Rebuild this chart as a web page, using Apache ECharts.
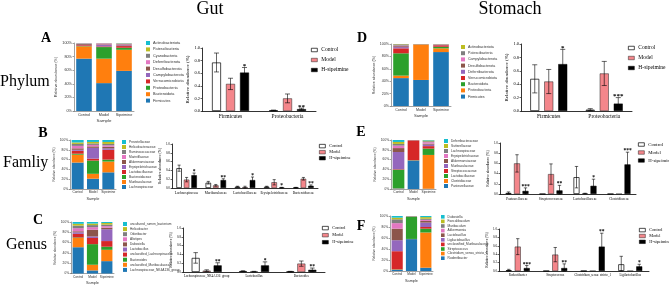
<!DOCTYPE html>
<html>
<head>
<meta charset="utf-8">
<script src="https://cdn.jsdelivr.net/npm/echarts@6/dist/echarts.min.js"></script>
<style>
  html, body { margin: 0; padding: 0; background: #fff; }
  #chart { width: 669px; height: 286px; }
</style>
</head>
<body>
<div id="chart"></div>
<script>
// ---- data ----
const samples = ['Control', 'Model', 'Sipeimine']
const groupNames = ['Control', 'Model', 'H-sipeimine']
// stacking colours, bottom -> top
const taxonColors = ['#1f77b4', '#ff7f0e', '#2ca02c', '#d62728', '#9467bd',
  '#8c564b', '#e377c2', '#7f7f7f', '#bcbd22', '#17becf']

// A: gut phylum, taxa bottom -> top, values [Control, Model, Sipeimine] (%)
const gutPhylumTaxa = ['Firmicutes', 'Bacteroidota', 'Proteobacteria', 'Verrucomicrobiota',
  'Campylobacterota', 'Desulfobacterota', 'Deferribacterota', 'Cyanobacteria',
  'Patescibacteria', 'Actinobacteriota']
const gutPhylumAbund = [[77, 41, 59], [18, 36, 31], [0.5, 17, 3], [1.2, 1, 2.5], [0.6, 2, 1],
  [1.2, 1, 1.5], [0.8, 1.5, 1], [0.3, 0.2, 0.3], [0.2, 0.2, 0.4], [0.2, 0.1, 0.3]]

// D: stomach phylum
const stomachPhylumTaxa = ['Firmicutes', 'Proteobacteria', 'Bacteroidota', 'Verrucomicrobiota',
  'Deferribacterota', 'Desulfobacterota', 'Campylobacterota', 'Patescibacteria', 'Actinobacteriota']
const stomachPhylumAbund = [[45, 42, 87], [4, 57, 6], [36, 0.3, 2.5], [8, 0.2, 2.5], [2, 0.1, 0.5],
  [1.5, 0.1, 0.5], [1, 0.1, 0.3], [2, 0.1, 0.5], [0.5, 0.1, 0.2]]

// B: gut family
const gutFamilyTaxa = ['Lachnospiraceae', 'Muribaculaceae', 'Bacteroidaceae', 'Lactobacillaceae',
  'Erysipelotrichaceae', 'Akkermansiaceae', 'Marinifilaceae', 'Ruminococcaceae',
  'Helicobacteraceae', 'Prevotellaceae']
const gutFamilyAbund = [[54, 21, 34], [16, 10, 22], [2, 27, 4], [6, 4, 20], [2, 22, 3],
  [3, 3, 3], [5, 3, 3], [4, 3, 3], [3, 3, 4], [5, 4, 4]]

// E: stomach family
const stomachFamilyTaxa = ['Pasteurellaceae', 'Clostridiaceae', 'Lactobacillaceae', 'Streptococcaceae',
  'Muribaculaceae', 'Akkermansiaceae', 'Erysipelotrichaceae', 'Lachnospiraceae',
  'Sutterellaceae', 'Deferribacteraceae']
const stomachFamilyAbund = [[1, 58, 0.5], [0.5, 0.2, 69], [38, 0.5, 13], [1, 40.5, 5], [35, 0.2, 3],
  [8, 0.2, 2], [5, 0.1, 3], [3.5, 0.1, 2], [4, 0.1, 1.5], [4, 0.1, 1]]

// C: gut genus
const gutGenusTaxa = ['Lachnospiraceae_NK4A136_group', 'unclassified_Muribaculaceae', 'Bacteroides',
  'unclassified_Lachnospiraceae', 'Lactobacillus', 'Dubosiella', 'Alistipes', 'Odoribacter',
  'Helicobacter', 'uncultured_rumen_bacterium']
const gutGenusAbund = [[51, 6, 24], [18, 11, 22], [1, 40, 6], [7, 12, 11], [3, 3, 23],
  [2, 13, 3], [6, 5, 3], [5, 4, 3], [3.5, 3, 3], [3.5, 3, 2]]

// F: stomach genus
const stomachGenusTaxa = ['Rodentibacter', 'Clostridium_sensu_stricto_1', 'Streptococcus',
  'unclassified_Muribaculaceae', 'Ligilactobacillus', 'Lactobacillus', 'Akkermansia',
  'Muribaculum', 'Faecalibaculum', 'Dubosiella']
const stomachGenusAbund = [[2, 58, 6], [0.5, 0.3, 64], [0.5, 40.5, 7], [33, 0.3, 3], [20, 0.3, 8],
  [21, 0.2, 3], [10, 0.1, 2], [7, 0.1, 2], [3, 0.1, 3], [3, 0.1, 2]]

// grouped bars: mean / sd rows are [Control, Model, H-sipeimine]
const gutPhylumCats = ['Firmicutes', 'Proteobacteria']
const gutPhylumMean = [[0.77, 0.01], [0.43, 0.20], [0.61, 0.03]]
const gutPhylumSd = [[0.15, 0.005], [0.09, 0.07], [0.08, 0.015]]
const gutPhylumSig = ['*', '**']

const stomachPhylumCats = ['Firmicutes', 'Proteobacteria']
const stomachPhylumMean = [[0.48, 0.02], [0.44, 0.56], [0.70, 0.11]]
const stomachPhylumSd = [[0.21, 0.015], [0.18, 0.18], [0.22, 0.09]]
const stomachPhylumSig = ['*', '***']

const gutFamilyCats = ['Lachnospiraceae', 'Muribaculaceae', 'Lactobacillaceae', 'Erysipelotrichaceae', 'Bacteroidaceae']
const gutFamilyMean = [[0.45, 0.12, 0.03, 0.03, 0.01], [0.19, 0.06, 0.02, 0.13, 0.21], [0.29, 0.18, 0.18, 0.01, 0.05]]
const gutFamilySd = [[0.07, 0.03, 0.01, 0.01, 0.005], [0.05, 0.02, 0.02, 0.06, 0.03], [0.05, 0.03, 0.07, 0.005, 0.02]]
const gutFamilySig = ['*', '**', '*', '*', '**']

const stomachFamilyCats = ['Pasteurellaceae', 'Streptococcaceae', 'Lactobacillaceae', 'Clostridiaceae']
const stomachFamilyMean = [[0.02, 0, 0.33, 0], [0.60, 0.39, 0.01, 0], [0.06, 0.07, 0.16, 0.58]]
const stomachFamilySd = [[0.02, 0, 0.21, 0], [0.17, 0.20, 0.005, 0], [0.06, 0.10, 0.13, 0.24]]
const stomachFamilySig = ['***', '**', '*', '***']

const gutGenusCats = ['Lachnospiraceae_NK4A136_group', 'Lactobacillus', 'Bacteroides']
const gutGenusMean = [[0.32, 0.02, 0.01], [0.03, 0.01, 0.19], [0.15, 0.15, 0.05]]
const gutGenusSd = [[0.12, 0.01, 0.005], [0.02, 0.005, 0.06], [0.06, 0.08, 0.04]]
const gutGenusSig = ['**', '*', '**']

const stomachGenusCats = ['Rodentibacter', 'Streptococcus', 'Clostridium_sensu_stricto_1', 'Ligilactobacillus']
const stomachGenusMean = [[0.02, 0, 0, 0.16], [0.58, 0.39, 0, 0], [0.07, 0.07, 0.58, 0.11]]
const stomachGenusSd = [[0.02, 0, 0, 0.19], [0.19, 0.17, 0, 0], [0.06, 0.10, 0.32, 0.05]]
const stomachGenusSig = ['***', '**', '**', '*']

// ---- layout ----
const SANS = '"Liberation Sans", Arial, sans-serif'
const SERIF = '"Liberation Serif", "Times New Roman", serif'

const stackPanels = [
  { id: 'A', taxa: gutPhylumTaxa, abund: gutPhylumAbund, box: [74, 43, 60, 68], leg: [146, 41, 6.4], fs: 3.8, nameGapY: 15, nameGapX: 8 },
  { id: 'D', taxa: stomachPhylumTaxa, abund: stomachPhylumAbund, box: [391, 44, 60, 62], leg: [461, 45, 6.2], fs: 3.6, nameGapY: 14, nameGapX: 8 },
  { id: 'B', taxa: gutFamilyTaxa, abund: gutFamilyAbund, box: [70, 140, 46, 49], leg: [122, 140, 5], fs: 3.2, nameGapY: 12, nameGapX: 7.5 },
  { id: 'E', taxa: stomachFamilyTaxa, abund: stomachFamilyAbund, box: [391, 140, 45, 49], leg: [444, 139, 5], fs: 3.2, nameGapY: 12, nameGapX: 7.5 },
  { id: 'C', taxa: gutGenusTaxa, abund: gutGenusAbund, box: [71, 222, 43, 53], leg: [123, 222, 5.1], fs: 3.2, nameGapY: 12, nameGapX: 7.5 },
  { id: 'F', taxa: stomachGenusTaxa, abund: stomachGenusAbund, box: [390, 216, 43, 55], leg: [441, 215, 4.6], fs: 3.2, nameGapY: 12, nameGapX: 7.5 }
]

const groupPanels = [
  { id: 'A', cats: gutPhylumCats, mean: gutPhylumMean, sd: gutPhylumSd, sig: gutPhylumSig, box: [202, 48, 114, 63], bw: 9, gap: 5, leg: [311, 47, 8], lfs: 5.5, fs: 4.5, cfs: 5.5, sfs: 7, nameGap: 10 },
  { id: 'D', cats: stomachPhylumCats, mean: stomachPhylumMean, sd: stomachPhylumSd, sig: stomachPhylumSig, box: [521, 44, 111, 67], bw: 9, gap: 5, leg: [628, 45, 8], lfs: 5.5, fs: 4.5, cfs: 5.5, sfs: 7, nameGap: 10 },
  { id: 'B', cats: gutFamilyCats, mean: gutFamilyMean, sd: gutFamilySd, sig: gutFamilySig, box: [172, 144, 146, 44], bw: 5.5, gap: 2, leg: [319, 144, 6], lfs: 4.3, fs: 3.3, cfs: 3.5, sfs: 5.5, nameGap: 8 },
  { id: 'E', cats: stomachFamilyCats, mean: stomachFamilyMean, sd: stomachFamilySd, sig: stomachFamilySig, box: [500, 143, 136, 51], bw: 6, gap: 2.5, leg: [638, 142, 7], lfs: 4.8, fs: 3.3, cfs: 3.5, sfs: 5.5, nameGap: 8 },
  { id: 'C', cats: gutGenusCats, mean: gutGenusMean, sd: gutGenusSd, sig: gutGenusSig, box: [183, 228, 142, 44], bw: 8, gap: 3, leg: [322, 226, 7], lfs: 4.3, fs: 3.2, cfs: 3.2, sfs: 5.5, nameGap: 8 },
  { id: 'F', cats: stomachGenusCats, mean: stomachGenusMean, sd: stomachGenusSd, sig: stomachGenusSig, box: [499, 229, 150, 42], bw: 6, gap: 3, leg: [639, 228, 5.8], lfs: 4.3, fs: 3.2, cfs: 3.2, sfs: 5.5, nameGap: 8 }
]

const groupStyles = [
  { color: '#ffffff', borderColor: '#000', borderWidth: 0.7 },
  { color: '#f4868b', borderColor: '#222', borderWidth: 0.5 },
  { color: '#000000', borderColor: '#000', borderWidth: 0.5 }
]

function headText(text, x, y, size, bold, align) {
  return {
    type: 'text', x: x, y: y, silent: true,
    style: {
      text: text, fill: '#000',
      font: (bold ? 'bold ' : '') + size + 'px ' + SERIF,
      textAlign: align || 'center', align: align || 'center',
      textVerticalAlign: 'middle', verticalAlign: 'middle'
    }
  }
}

const option = {
  animation: false,
  backgroundColor: '#fff',
  textStyle: { fontFamily: SANS },
  graphic: [
    headText('Gut', 210, 9, 18),
    headText('Stomach', 510, 9, 18),
    headText('Phylum', 0, 82, 16, false, 'left'),
    headText('Famliy', 3, 163, 16, false, 'left'),
    headText('Genus', 6, 245, 16, false, 'left'),
    headText('A', 46, 38, 14, true),
    headText('B', 43, 133, 14, true),
    headText('C', 38, 220, 14, true),
    headText('D', 362, 38, 14, true),
    headText('E', 361, 132, 14, true),
    headText('F', 361, 226, 14, true)
  ],
  grid: [], xAxis: [], yAxis: [], legend: [], series: []
}

// stacked composition panels
stackPanels.forEach((p, i) => {
  const [left, top, width, height] = p.box
  option.grid.push({ left, top, width, height })
  option.xAxis.push({
    type: 'category', gridIndex: i, data: samples,
    name: 'Sample', nameLocation: 'middle', nameGap: p.nameGapX,
    nameTextStyle: { fontSize: p.fs + 0.6, color: '#333' },
    axisLine: { lineStyle: { color: '#444', width: 0.5 } },
    axisTick: { alignWithLabel: true, length: 1.5, lineStyle: { width: 0.5 } },
    axisLabel: { fontSize: p.fs, color: '#333', margin: 2, interval: 0, hideOverlap: false }
  })
  option.yAxis.push({
    type: 'value', gridIndex: i, min: 0, max: 100, interval: 20,
    name: 'Relative abundance (%)', nameLocation: 'middle', nameGap: p.nameGapY, nameRotate: 90,
    nameTextStyle: { fontSize: p.fs, color: '#333' },
    axisLine: { show: true, lineStyle: { color: '#444', width: 0.5 } },
    axisTick: { show: true, length: 1.5, lineStyle: { width: 0.5 } },
    axisLabel: { fontSize: p.fs, color: '#333', margin: 2, formatter: '{value}%' },
    splitLine: { show: false }
  })
  p.taxa.forEach((t, k) => {
    option.series.push({
      type: 'bar', name: t, xAxisIndex: i, yAxisIndex: i, stack: 'stk' + p.id,
      barCategoryGap: '22%', data: p.abund[k],
      itemStyle: { color: taxonColors[k] }
    })
  })
  const [lx, ly, step] = p.leg
  const ih = Math.min(4, step - 1)
  option.legend.push({
    left: lx, top: ly, orient: 'vertical', padding: 0, icon: 'rect',
    itemWidth: ih, itemHeight: ih, itemGap: step - ih,
    selectedMode: false,
    textStyle: { fontSize: p.fs, lineHeight: ih, color: '#333', padding: [0, 0, 0, -2] },
    data: p.taxa.map((t, k) => ({ name: t, itemStyle: { color: taxonColors[k] } })).reverse()
  })
})

// grouped bar panels with error bars
groupPanels.forEach((p, j) => {
  const gi = stackPanels.length + j
  const [left, top, width, height] = p.box
  option.grid.push({ left, top, width, height })
  option.xAxis.push({
    type: 'category', gridIndex: gi, data: p.cats,
    axisLine: { lineStyle: { color: '#000', width: 0.8 } },
    axisTick: { alignWithLabel: true, length: 2, lineStyle: { width: 0.6 } },
    axisLabel: { fontSize: p.cfs, fontFamily: SERIF, color: '#000', margin: 3, interval: 0, hideOverlap: false }
  })
  option.yAxis.push({
    type: 'value', gridIndex: gi, min: 0, max: 1, interval: 0.2,
    name: 'Relative abundance (%)', nameLocation: 'middle', nameGap: p.nameGap, nameRotate: 90,
    nameTextStyle: { fontSize: p.fs + 0.5, fontFamily: SERIF, color: '#000' },
    axisLine: { show: true, lineStyle: { color: '#000', width: 0.8 } },
    axisTick: { show: true, length: 1.5, lineStyle: { width: 0.6 } },
    axisLabel: { fontSize: p.fs, fontFamily: SERIF, color: '#000', margin: 2, formatter: v => v.toFixed(1) },
    splitLine: { show: false }
  })
  groupNames.forEach((g, k) => {
    option.series.push({
      type: 'bar', name: g, xAxisIndex: gi, yAxisIndex: gi,
      barWidth: p.bw, barGap: (p.gap / p.bw * 100) + '%',
      data: p.mean[k], itemStyle: groupStyles[k]
    })
  })
  const errData = []
  p.mean.forEach((row, k) => row.forEach((v, c) => errData.push([c, v, p.sd[k][c], k])))
  option.series.push({
    type: 'custom', xAxisIndex: gi, yAxisIndex: gi, data: errData, silent: true, z: 10,
    renderItem: (params, api) => {
      const c = api.value(0), m = api.value(1), s = api.value(2), k = api.value(3)
      const x = api.coord([c, m])[0] + (k - 1) * (p.bw + p.gap)
      const hi = api.coord([c, m + s])[1]
      const lo = api.coord([c, Math.max(m - s, 0)])[1]
      const cap = p.bw * 0.28
      const st = { stroke: '#000', lineWidth: 0.6 }
      const children = []
      if (s > 0) {
        children.push({ type: 'line', shape: { x1: x, y1: lo, x2: x, y2: hi }, style: st })
        children.push({ type: 'line', shape: { x1: x - cap, y1: hi, x2: x + cap, y2: hi }, style: st })
        children.push({ type: 'line', shape: { x1: x - cap, y1: lo, x2: x + cap, y2: lo }, style: st })
      }
      if (k === 2 && p.sig[c]) {
        children.push({
          type: 'text', x: x, y: hi + p.sfs * 0.3,
          style: {
            text: p.sig[c], fill: '#000', font: 'bold ' + p.sfs + 'px ' + SERIF,
            textAlign: 'center', align: 'center', textVerticalAlign: 'bottom', verticalAlign: 'bottom'
          }
        })
      }
      return { type: 'group', children }
    }
  })
  const [lx, ly, step] = p.leg
  option.legend.push({
    left: lx, top: ly, orient: 'vertical', padding: 0, icon: 'rect',
    itemWidth: 6, itemHeight: 3.5, itemGap: step - 4,
    selectedMode: false,
    textStyle: { fontSize: p.lfs, lineHeight: 4, fontFamily: SERIF, color: '#000', padding: [0, 0, 0, -1] },
    data: groupNames.map((g, k) => ({ name: g, itemStyle: groupStyles[k] }))
  })
})

const chart = echarts.init(document.getElementById('chart'))
chart.setOption(option)
</script>
</body>
</html>
